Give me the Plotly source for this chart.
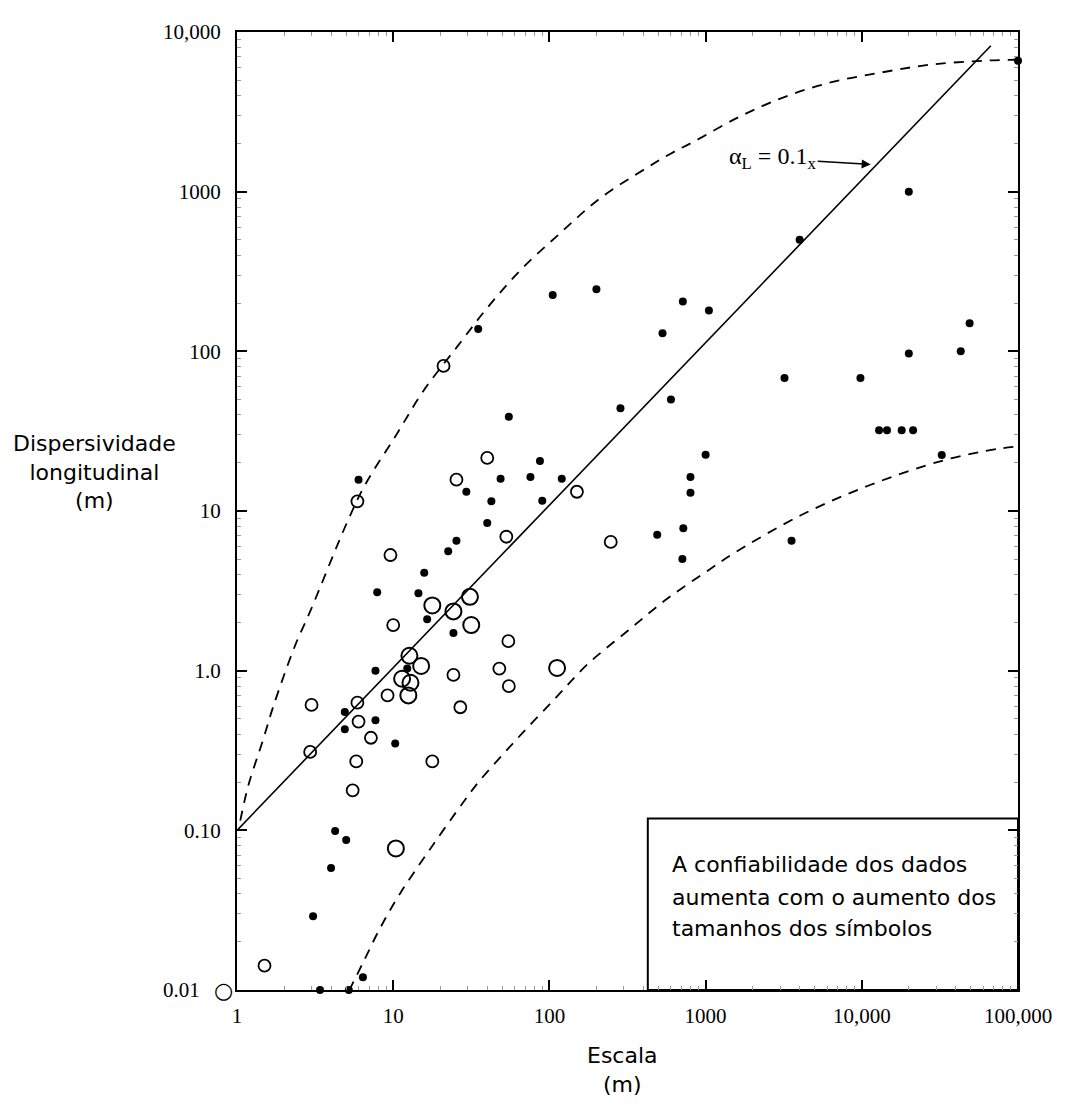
import math
import plotly.graph_objects as go

# Filled dots (scale m, dispersivity m)
filled_x = [100000, 20000, 4000, 200, 105, 715, 1050, 35, 530, 49000, 20000, 43000,
            3200, 9800, 285, 600, 55, 12900, 14500, 18000, 21300, 32500, 3550, 1000,
            800, 800, 720, 490, 710, 87, 48.7, 75.6, 120, 29.4, 42.5, 90, 40, 25.4,
            22.5, 6.0, 15.8, 7.9, 14.5, 16.5, 24.3, 7.7, 12.3, 4.9, 7.7, 4.9, 10.3,
            4.25, 5.0, 4.0, 3.07, 3.4, 5.2, 6.4]
filled_y = [6600, 1000, 500, 245, 225, 205, 180, 138, 130, 150, 97, 100,
            68, 68, 44, 50, 39, 32, 32, 32, 32, 22.4, 6.5, 22.5,
            16.3, 13, 7.8, 7.1, 5.0, 20.6, 15.9, 16.3, 15.9, 13.2, 11.5, 11.6, 8.4, 6.5,
            5.6, 15.7, 4.1, 3.1, 3.05, 2.1, 1.72, 1.0, 1.03, 0.55, 0.49, 0.43, 0.35,
            0.099, 0.087, 0.058, 0.029, 0.01, 0.01, 0.012]

# Open circles, medium size
open_x = [5.9, 53, 9.6, 10, 54.6, 24.3, 47.8, 9.2, 55, 3.0, 5.9, 26.9, 6.0, 7.2,
          2.94, 5.8, 17.8, 5.5, 1.5, 21, 40, 25.4, 150, 247]
open_y = [11.5, 6.9, 5.3, 1.93, 1.53, 0.94, 1.03, 0.70, 0.80, 0.61, 0.63, 0.59, 0.48, 0.38,
          0.31, 0.27, 0.27, 0.178, 0.0142, 81, 21.5, 15.7, 13.2, 6.4]

# Open circles, large size
big_x = [31, 17.8, 24.3, 31.6, 12.7, 15.1, 112, 11.4, 12.9, 12.5, 10.4]
big_y = [2.9, 2.56, 2.35, 1.93, 1.24, 1.07, 1.04, 0.89, 0.84, 0.70, 0.077]

# large open circle just left of the axis (outside the x range)
out_x = 0.82
out_y = 0.01

# alpha_L = 0.1x line
line_x = [1, 67000]
line_y = [0.1, 8200]

# Upper envelope (dashed)
upper_x = [1.05, 1.18, 1.47, 1.70, 2.35, 2.94, 5.07, 6.61, 10.6, 15.6, 25.7, 40.0, 65.2,
           118, 212, 425, 597, 838, 1630, 3160, 6310, 13200, 27800, 60800, 100000]
upper_y = [0.115, 0.19, 0.37, 0.59, 1.43, 2.35, 8.5, 14.6, 30.6, 56.5, 107, 187, 322,
           553, 912, 1420, 1730, 2055, 2930, 3900, 4830, 5570, 6250, 6610, 6700]

# Lower envelope (dashed)
lower_x = [5.22, 6.42, 8.26, 11.1, 17.3, 28.1, 35.1, 58.8, 106, 176, 316, 570, 1077,
           1490, 4070, 11400, 33600, 74400, 100000]
lower_y = [0.0099, 0.0149, 0.0245, 0.0404, 0.0768, 0.150, 0.20, 0.353, 0.652, 1.1, 1.77,
           2.83, 4.35, 5.38, 9.4, 14.6, 20.8, 24.5, 25.4]

x_ticks = [1, 10, 100, 1000, 10000, 100000]
x_labels = ["1", "10", "100", "1000", "10,000", "100,000"]
y_ticks = [0.01, 0.1, 1, 10, 100, 1000, 10000]
# 0.01 label sits left of the open circle in the original, hence the padding
y_labels = ["0.01" + "\u00a0" * 4, "0.10", "1.0", "10", "100", "1000", "10,000"]

box_lines = ["A confiabilidade dos dados", "aumenta com o aumento dos", "tamanhos dos símbolos"]

x_range = [0, 5]
y_range = [-2, 4]

fig = go.Figure()

fig.add_trace(go.Scatter(x=upper_x, y=upper_y, mode="lines", line_shape="spline",
                         line=dict(color="black", width=1.8, dash="10px,8px")))
fig.add_trace(go.Scatter(x=lower_x, y=lower_y, mode="lines", line_shape="spline",
                         line=dict(color="black", width=1.8, dash="10px,8px")))
fig.add_trace(go.Scatter(x=line_x, y=line_y, mode="lines",
                         line=dict(color="black", width=1.6)))

fig.add_trace(go.Scatter(x=filled_x, y=filled_y, mode="markers",
                         marker=dict(symbol="circle", size=8, color="black")))
fig.add_trace(go.Scatter(x=open_x, y=open_y, mode="markers",
                         marker=dict(symbol="circle-open", size=12, color="black",
                                     line=dict(width=1.8))))
fig.add_trace(go.Scatter(x=big_x, y=big_y, mode="markers",
                         marker=dict(symbol="circle-open", size=16, color="black",
                                     line=dict(width=2))))

fig.update_traces(cliponaxis=False, hoverinfo="skip")

tick_font = dict(family="Liberation Serif", size=21, color="black")
label_font = dict(family="DejaVu Sans", size=22, color="black")

minor_x = [m * 10 ** k for k in range(0, 5) for m in range(2, 10)]
minor_y = [m * 10 ** k for k in range(-2, 4) for m in range(2, 10)]

fig.update_xaxes(type="log", range=x_range, tickvals=x_ticks, ticktext=x_labels,
                 ticks="inside", ticklen=10, tickwidth=1.5, tickcolor="black",
                 showline=True, linecolor="black", linewidth=2, mirror="ticks",
                 showgrid=False, zeroline=False, tickfont=tick_font, ticklabelstandoff=6,
                 minor=dict(tickmode="array", tickvals=minor_x, ticks="inside", ticklen=4,
                            tickwidth=1, tickcolor="#999", showgrid=False))
fig.update_yaxes(type="log", range=y_range, tickvals=y_ticks, ticktext=y_labels,
                 ticks="inside", ticklen=10, tickwidth=1.5, tickcolor="black",
                 showline=True, linecolor="black", linewidth=2, mirror="ticks",
                 showgrid=False, zeroline=False, tickfont=tick_font, ticklabelstandoff=10,
                 minor=dict(tickmode="array", tickvals=minor_y, ticks="inside", ticklen=4,
                            tickwidth=1, tickcolor="#999", showgrid=False))

# the circle left of the axis lies outside the x range, so place it in paper units
out_px = (math.log10(out_x) - x_range[0]) / (x_range[1] - x_range[0])
out_py = (math.log10(out_y) - y_range[0]) / (y_range[1] - y_range[0])

annotations = [
    dict(text="Dispersividade<br>longitudinal<br>(m)", xref="paper", yref="paper",
         x=-0.182, y=0.541, xanchor="center", yanchor="middle",
         showarrow=False, align="center", font=label_font),
    dict(text="Escala<br>(m)", xref="paper", yref="paper",
         x=0.493, y=-0.083, xanchor="center", yanchor="middle",
         showarrow=False, align="center", font=label_font),
    dict(text="α<sub>L</sub> = 0.1<sub>x</sub>", xref="x", yref="y",
         x=math.log10(11400), y=math.log10(1480), ax=-98, ay=-6,
         showarrow=True, arrowhead=2, arrowsize=1.2, arrowwidth=1.5, arrowcolor="black",
         font=dict(family="Liberation Serif", size=24, color="black")),
    dict(text="○", xref="paper", yref="paper", x=out_px, y=out_py,
         showarrow=False, xanchor="center", yanchor="middle",
         font=dict(family="DejaVu Sans", size=22, color="black")),
]
box_y = [0.131, 0.097, 0.064]
for txt, yy in zip(box_lines, box_y):
    annotations.append(dict(text=txt, xref="paper", yref="paper", x=0.554, y=yy,
                            xanchor="left", yanchor="middle", showarrow=False,
                            font=label_font))

fig.update_layout(
    width=1060, height=1098, autosize=False,
    margin=dict(l=229, r=50, t=14, b=116),
    paper_bgcolor="white", plot_bgcolor="white",
    showlegend=False,
    annotations=annotations,
    shapes=[dict(type="rect", xref="paper", yref="paper", x0=0.526, x1=1, y0=0, y1=0.179,
                 line=dict(color="black", width=2), fillcolor="white", layer="below")],
)

fig.write_html("out.html")
